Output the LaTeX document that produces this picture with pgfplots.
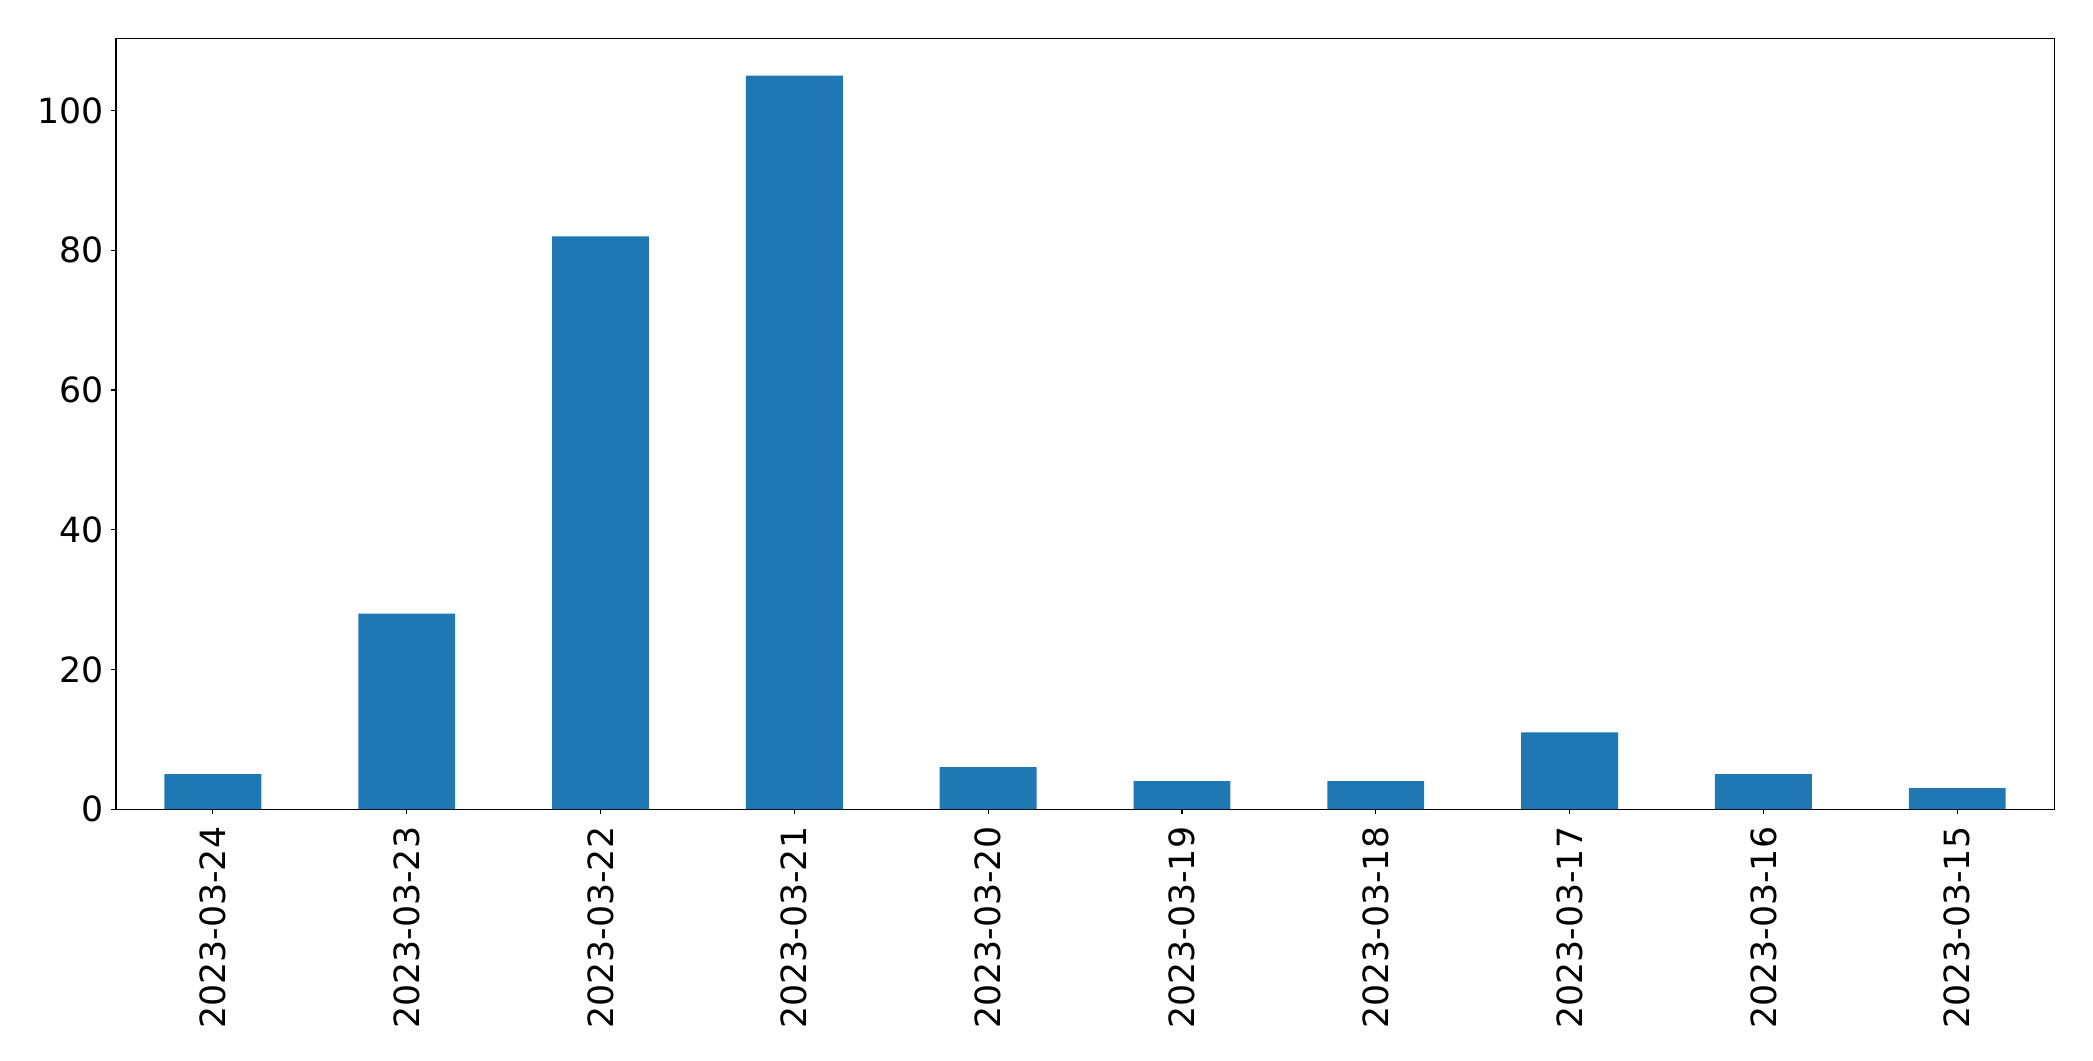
\documentclass[border=0pt]{standalone}
\usepackage{pgfplots}
\pgfplotsset{compat=1.18}
\usepackage{fontspec}
\setmainfont{DejaVu Sans}
\definecolor{mplblue}{HTML}{1F77B4}
\begin{document}
\fontsize{25}{29}\selectfont
\begin{tikzpicture}
\begin{axis}[
  scale only axis,
  width=1395pt, height=554.4pt,
  xmin=-0.5, xmax=9.5,
  ymin=0, ymax=110.25,
  xtick={0,...,9},
  xticklabels={2023-03-24,2023-03-23,2023-03-22,2023-03-21,2023-03-20,2023-03-19,2023-03-18,2023-03-17,2023-03-16,2023-03-15},
  x tick label style={rotate=90, anchor=east, inner sep=0pt, xshift=0pt},
  xticklabel shift=9pt,
  ytick={0,20,40,60,80,100},
  y tick label style={inner sep=0pt},
  yticklabel shift=5pt,
  /pgf/number format/assume math mode=true,
  tick align=outside,
  major tick length=3.5pt,
  tick style={black, line width=0.8pt},
  axis line style={line width=0.8pt},
  xtick pos=bottom, ytick pos=left,
  tick label style={font=\fontsize{25}{29}\selectfont},
]
\addplot[ybar, bar width=0.5, fill=mplblue, draw=none, bar shift=0pt] coordinates {
(0,5) (1,28) (2,82) (3,105) (4,6) (5,4) (6,4) (7,11) (8,5) (9,3)
};
\end{axis}
\pgfresetboundingbox
\path[use as bounding box] (current axis.south west) ++(-83.5pt,-180.9pt) rectangle ([shift={(28pt,28pt)}]current axis.north east);
\end{tikzpicture}
\end{document}
